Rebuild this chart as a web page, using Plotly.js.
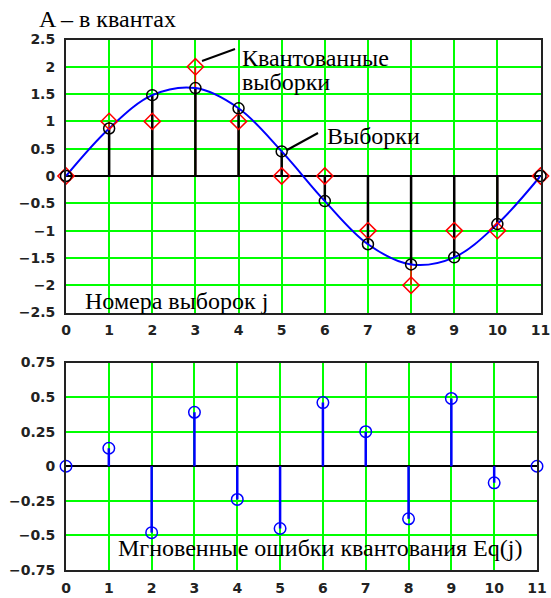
<!DOCTYPE html>
<html>
<head>
<meta charset="utf-8">
<script src="https://cdn.plot.ly/plotly-3.0.1.min.js"></script>
<style>html,body{margin:0;padding:0;background:#fff;}#chart{width:551px;height:598px;}</style>
</head>
<body>
<div id="chart"></div>
<script>
// ---- data ----
const sampleIndex = [0, 1, 2, 3, 4, 5, 6, 7, 8, 9, 10, 11];
const samples     = [0, 0.87, 1.48, 1.61, 1.24, 0.45, -0.46, -1.25, -1.62, -1.49, -0.88, 0];
const quantized   = [0, 1, 1, 2, 1, 0, 0, -1, -2, -1, -1, 0];
const errors      = [0, 0.13, -0.48, 0.39, -0.24, -0.45, 0.46, 0.25, -0.38, 0.49, -0.12, 0];

const xTickVals   = [0, 1, 2, 3, 4, 5, 6, 7, 8, 9, 10, 11];
const xTickText   = ['0','1','2','3','4','5','6','7','8','9','10','11'];
const yTopVals    = [2.5, 2, 1.5, 1, 0.5, 0, -0.5, -1, -1.5, -2, -2.5];
const yTopText    = ['2.5','2','1.5','1','0.5','0','\u22120.5','\u22121','\u22121.5','\u22122','\u22122.5'];
const yBotVals    = [0.75, 0.5, 0.25, 0, -0.25, -0.5, -0.75];
const yBotText    = ['0.75','0.5','0.25','0','\u22120.25','\u22120.5','\u22120.75'];

const W = 551, H = 598;
const px = v => v / W;
const py = v => 1 - v / H;

function stems(xs, ys) {
  const sx = [], sy = [];
  xs.forEach((x, i) => { sx.push(x, x, null); sy.push(0, ys[i], null); });
  return {x: sx, y: sy};
}

const redStems = stems(sampleIndex, quantized);
const blackStems = stems(sampleIndex, samples);
const blueStems = stems(sampleIndex, errors);

const traces = [
  {x: redStems.x, y: redStems.y, mode: 'lines', line: {color: '#ff0000', width: 1.5}, xaxis: 'x', yaxis: 'y', hoverinfo: 'skip'},
  {x: blackStems.x, y: blackStems.y, mode: 'lines', line: {color: '#000000', width: 2.5}, xaxis: 'x', yaxis: 'y', hoverinfo: 'skip'},
  {x: sampleIndex, y: samples, mode: 'lines', line: {color: '#0000ff', width: 2, shape: 'spline', smoothing: 1}, xaxis: 'x', yaxis: 'y'},
  {x: sampleIndex, y: quantized, mode: 'markers', marker: {symbol: 'diamond-open', size: 12.5, color: '#ff0000', line: {width: 1.5, color: '#ff0000'}}, cliponaxis: false, xaxis: 'x', yaxis: 'y'},
  {x: sampleIndex, y: samples, mode: 'markers', marker: {symbol: 'circle-open', size: 11, color: '#000000', line: {width: 1.5, color: '#000000'}}, cliponaxis: false, xaxis: 'x', yaxis: 'y'},
  {x: blueStems.x, y: blueStems.y, mode: 'lines', line: {color: '#0000ff', width: 2.5}, xaxis: 'x2', yaxis: 'y2', hoverinfo: 'skip'},
  {x: sampleIndex, y: errors, mode: 'markers', marker: {symbol: 'circle-open', size: 11.5, color: '#0000ff', line: {width: 1.5, color: '#0000ff'}}, cliponaxis: false, xaxis: 'x2', yaxis: 'y2'}
];

const tickFont = {family: 'DejaVu Sans', size: 14, color: '#222222', weight: 'bold'};
const axBase = {
  showgrid: true, gridcolor: '#00ff00', gridwidth: 2,
  showline: true, mirror: true, linecolor: '#222222', linewidth: 2,
  ticks: '', tickfont: tickFont, fixedrange: true
};
const textFont = {family: 'Liberation Serif', size: 24, color: '#000'};

const layout = {
  width: W, height: H,
  margin: {l: 0, r: 0, t: 0, b: 0},
  paper_bgcolor: '#ffffff', plot_bgcolor: '#ffffff',
  showlegend: false,
  xaxis: Object.assign({}, axBase, {domain: [px(66), px(540.5)], range: [0, 11], tickmode: 'array', tickvals: xTickVals, ticktext: xTickText, zeroline: false, anchor: 'y', ticklabelstandoff: 4}),
  yaxis: Object.assign({}, axBase, {domain: [py(312.5), py(39.5)], range: [-2.5, 2.5], tickmode: 'array', tickvals: yTopVals, ticktext: yTopText, zeroline: true, zerolinecolor: '#000000', zerolinewidth: 2, anchor: 'x', ticklabelstandoff: 6}),
  xaxis2: Object.assign({}, axBase, {domain: [px(66), px(537)], range: [0, 11], tickmode: 'array', tickvals: xTickVals, ticktext: xTickText, zeroline: false, anchor: 'y2', ticklabelstandoff: 4}),
  yaxis2: Object.assign({}, axBase, {domain: [py(570), py(362.5)], range: [-0.75, 0.75], tickmode: 'array', tickvals: yBotVals, ticktext: yBotText, zeroline: true, zerolinecolor: '#000000', zerolinewidth: 2, anchor: 'x2', ticklabelstandoff: 6}),
  annotations: [
    {text: 'A \u2013 в квантах', xref: 'paper', yref: 'paper', x: px(37), y: py(19), xanchor: 'left', yanchor: 'middle', showarrow: false, font: textFont},
    {text: 'Квантованные', xref: 'paper', yref: 'paper', x: px(240), y: py(58), xanchor: 'left', yanchor: 'middle', showarrow: false, font: textFont},
    {text: 'выборки', xref: 'paper', yref: 'paper', x: px(240), y: py(82), xanchor: 'left', yanchor: 'middle', showarrow: false, font: textFont},
    {text: 'Выборки', xref: 'paper', yref: 'paper', x: px(325), y: py(136), xanchor: 'left', yanchor: 'middle', showarrow: false, font: textFont},
    {text: 'Номера выборок j', xref: 'paper', yref: 'paper', x: px(83), y: py(301), xanchor: 'left', yanchor: 'middle', showarrow: false, font: textFont},
    {text: 'Мгновенные ошибки квантования Eq(j)', xref: 'paper', yref: 'paper', x: px(116), y: py(548), xanchor: 'left', yanchor: 'middle', showarrow: false, font: textFont}
  ],
  shapes: [
    {type: 'line', xref: 'paper', yref: 'paper', x0: px(202), y0: py(61), x1: px(235), y1: py(49), line: {color: '#000', width: 2}},
    {type: 'line', xref: 'paper', yref: 'paper', x0: px(287), y0: py(150), x1: px(318), y1: py(133), line: {color: '#000', width: 2}}
  ]
};

Plotly.newPlot('chart', traces, layout, {displayModeBar: false, staticPlot: true});
</script>
</body>
</html>
